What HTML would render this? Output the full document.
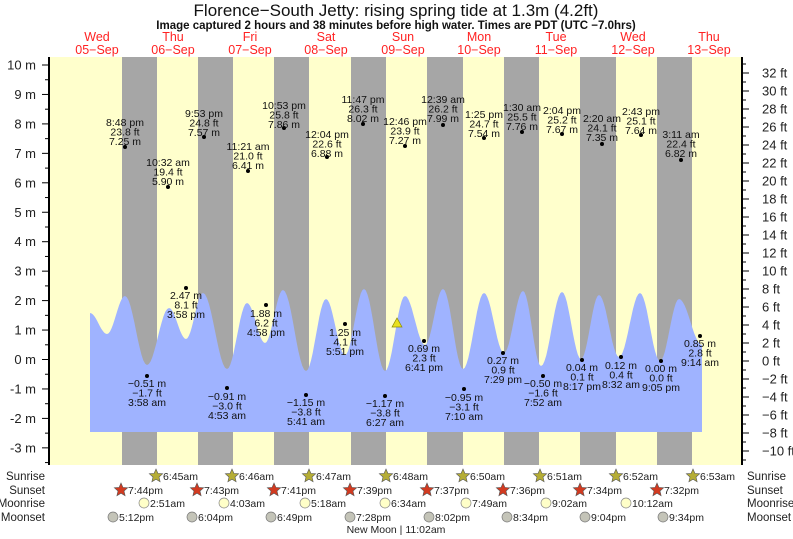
<!DOCTYPE html>
<html><head><meta charset="utf-8"><style>
html,body{margin:0;padding:0;background:#fff;width:793px;height:539px;overflow:hidden}
svg{display:block;font-family:"Liberation Sans",sans-serif}
</style></head><body>
<svg id="s" width="793" height="539" viewBox="0 0 793 539" xmlns="http://www.w3.org/2000/svg">
<rect x="49" y="57" width="693" height="408" fill="#ffffcc"/>
<g fill="#a6a6a6">
<rect x="122" y="57" width="35" height="408"/><rect x="198" y="57" width="35" height="408"/>
<rect x="274" y="57" width="35" height="408"/><rect x="351" y="57" width="35" height="408"/>
<rect x="427" y="57" width="36" height="408"/><rect x="504" y="57" width="35" height="408"/>
<rect x="580" y="57" width="36" height="408"/><rect x="657" y="57" width="35" height="408"/>
</g>
<path id="tide" fill="#9fb3ff" d=""/>
<polygon points="392,327 397,318 402,327" fill="#e8e020" stroke="#8a8a00" stroke-width="0.7"/>
<line x1="49" y1="57" x2="49" y2="465" stroke="#000" stroke-width="2"/>
<line x1="742" y1="57" x2="742" y2="465" stroke="#000" stroke-width="2"/>
<g id="ticks" stroke="#000" stroke-width="1"></g>
<g font-size="13" fill="#222" text-anchor="end" id="lab"></g>
<g font-size="13" fill="#222" id="rlab"></g>
<text x="396" y="16" font-size="17" text-anchor="middle" fill="#111">Florence−South Jetty: rising  spring tide at 1.3m (4.2ft)</text>
<text x="396" y="29" font-size="11.5" font-weight="bold" text-anchor="middle" fill="#111">Image captured 2 hours and 38 minutes before high water. Times are PDT (UTC −7.0hrs)</text>
<g font-size="12.5" fill="#ff2222" text-anchor="middle">
<text x="97" y="41">Wed</text><text x="97" y="54">05−Sep</text>
<text x="173" y="41">Thu</text><text x="173" y="54">06−Sep</text>
<text x="250" y="41">Fri</text><text x="250" y="54">07−Sep</text>
<text x="326" y="41">Sat</text><text x="326" y="54">08−Sep</text>
<text x="403" y="41">Sun</text><text x="403" y="54">09−Sep</text>
<text x="479" y="41">Mon</text><text x="479" y="54">10−Sep</text>
<text x="556" y="41">Tue</text><text x="556" y="54">11−Sep</text>
<text x="633" y="41">Wed</text><text x="633" y="54">12−Sep</text>
<text x="709" y="41">Thu</text><text x="709" y="54">13−Sep</text>
</g>
<g id="ann" font-size="10.5" fill="#111" text-anchor="middle"></g>
<g id="bot" font-size="11.5" fill="#222"></g>
<text x="396" y="533" font-size="10.5" text-anchor="middle" fill="#222">New Moon | 11:02am</text>
</svg>
<script>
var NS="http://www.w3.org/2000/svg";
function el(p,t,a,txt){var e=document.createElementNS(NS,t);for(var k in a)e.setAttribute(k,a[k]);if(txt!=null)e.textContent=txt;document.getElementById(p).appendChild(e);return e;}
// tide
var P=[[90,313],[107,334],[125,296],[147,365],[169,308],[186,339],[203,293],[227,369],[247,303],[265,343],[283,290],[306,371],[326,299],[345,355],[364,289],[385,371],[405,296],[425,345],[443,289],[463,369],[484,293],[504,353],[523,291],[541,366],[562,292],[581,359],[599,295],[619,357],[640,293],[660,361],[679,299],[702,345]];
var d="M90,432 L90,313";
for(var i=0;i<P.length-1;i++){var a=P[i],b=P[i+1];for(var k=1;k<=12;k++){var t=k/12;var x=a[0]+(b[0]-a[0])*t;var f=(1-Math.cos(Math.PI*t))/2;if(i==0)f=t<0.5?f:f;var y=a[1]+(b[1]-a[1])*f;d+=" L"+x.toFixed(1)+","+y.toFixed(1);}}
d+=" L702,432 Z";document.getElementById("tide").setAttribute("d",d);
// left axis
for(var m=-3;m<=10;m++){var y=359.5-m*29.45;el("ticks","line",{x1:42,y1:y,x2:49,y2:y});el("lab","text",{x:36,y:y+4.5},m+" m");if(m<10){var y2=y-14.7;el("ticks","line",{x1:45,y1:y2,x2:49,y2:y2});}}
el("ticks","line",{x1:45,y1:359.5+3.5*29.45,x2:49,y2:359.5+3.5*29.45});
// right axis
for(var f=-11;f<=33;f++){var y=361-f*9;if(y<58||y>465)continue;var maj=(f%2==0);el("ticks","line",{x1:742,y1:y,x2:maj?749:746,y2:y});if(maj&&f>=-10&&f<=32)el("rlab","text",{x:762,y:y+4.5},(f<0?"−"+(-f):f)+" ft");}
// annotations: x,dotY,lines,lineYs(baselines),above
var H=[[125,147,["8:48 pm","23.8 ft","7.25 m"],126],[168,187,["10:32 am","19.4 ft","5.90 m"],166],[204,137,["9:53 pm","24.8 ft","7.57 m"],117],[248,171,["11:21 am","21.0 ft","6.41 m"],150],[284,128,["10:53 pm","25.8 ft","7.86 m"],109],[327,157,["12:04 pm","22.6 ft","6.88 m"],138],[363,124,["11:47 pm","26.3 ft","8.02 m"],103],[405,146,["12:46 pm","23.9 ft","7.27 m"],125],[443,125,["12:39 am","26.2 ft","7.99 m"],103],[484,138,["1:25 pm","24.7 ft","7.54 m"],118],[522,132,["1:30 am","25.5 ft","7.76 m"],111],[562,134,["2:04 pm","25.2 ft","7.67 m"],114],[602,144,["2:20 am","24.1 ft","7.35 m"],122],[641,135,["2:43 pm","25.1 ft","7.64 m"],115],[681,160,["3:11 am","22.4 ft","6.82 m"],138]];
var L=[[147,376,["−0.51 m","−1.7 ft","3:58 am"],387],[186,288,["2.47 m","8.1 ft","3:58 pm"],299],[227,388,["−0.91 m","−3.0 ft","4:53 am"],400],[266,305,["1.88 m","6.2 ft","4:58 pm"],317],[306,395,["−1.15 m","−3.8 ft","5:41 am"],406],[345,324,["1.25 m","4.1 ft","5:51 pm"],336],[385,396,["−1.17 m","−3.8 ft","6:27 am"],407],[424,341,["0.69 m","2.3 ft","6:41 pm"],352],[464,389,["−0.95 m","−3.1 ft","7:10 am"],401],[503,353,["0.27 m","0.9 ft","7:29 pm"],364],[543,376,["−0.50 m","−1.6 ft","7:52 am"],387],[582,360,["0.04 m","0.1 ft","8:17 pm"],371],[621,357,["0.12 m","0.4 ft","8:32 am"],369],[661,361,["0.00 m","0.0 ft","9:05 pm"],372],[700,336,["0.85 m","2.8 ft","9:14 am"],347]];
H.concat(L).forEach(function(a){el("ann","circle",{cx:a[0],cy:a[1],r:2,fill:"#000"});for(var i=0;i<3;i++)el("ann","text",{x:a[0],y:a[3]+i*9.5},a[2][i]);});
// bottom
function star(cx,cy,fill){var p="";for(var i=0;i<10;i++){var r=i%2?3.2:7;var an=-Math.PI/2+i*Math.PI/5;p+=(cx+r*Math.cos(an)).toFixed(1)+","+(cy+r*Math.sin(an)).toFixed(1)+" ";}el("bot","polygon",{points:p,fill:fill,stroke:"#555",'stroke-width':0.6});}
var rows=[["Sunrise",476],["Sunset",490],["Moonrise",503],["Moonset",517]];
rows.forEach(function(r){el("bot","text",{x:45,y:r[1]+4,"text-anchor":"end"},r[0]);el("bot","text",{x:747,y:r[1]+4},r[0]);});
var sr=[[156,"6:45am"],[232,"6:46am"],[309,"6:47am"],[386,"6:48am"],[463,"6:50am"],[540,"6:51am"],[616,"6:52am"],[693,"6:53am"]];
sr.forEach(function(a){star(a[0],476,"#b5ad35");el("bot","text",{x:a[0]+7,y:480,"font-size":"10.5"},a[1]);});
var ss=[[121,"7:44pm"],[197,"7:43pm"],[274,"7:41pm"],[350,"7:39pm"],[427,"7:37pm"],[503,"7:36pm"],[580,"7:34pm"],[657,"7:32pm"]];
ss.forEach(function(a){star(a[0],490,"#d23a20");el("bot","text",{x:a[0]+7,y:494,"font-size":"10.5"},a[1]);});
var mr=[[144,"2:51am"],[224,"4:03am"],[305,"5:18am"],[385,"6:34am"],[466,"7:49am"],[546,"9:02am"],[626,"10:12am"]];
mr.forEach(function(a){el("bot","circle",{cx:a[0],cy:503,r:5,fill:"#ffffc8",stroke:"#888","stroke-width":0.7});el("bot","text",{x:a[0]+6,y:507,"font-size":"10.5"},a[1]);});
var ms=[[113,"5:12pm"],[192,"6:04pm"],[271,"6:49pm"],[350,"7:28pm"],[429,"8:02pm"],[507,"8:34pm"],[585,"9:04pm"],[663,"9:34pm"]];
ms.forEach(function(a){el("bot","circle",{cx:a[0],cy:517,r:5,fill:"#c4c4b8",stroke:"#777","stroke-width":0.7});el("bot","text",{x:a[0]+6,y:521,"font-size":"10.5"},a[1]);});
</script>
</body></html>
